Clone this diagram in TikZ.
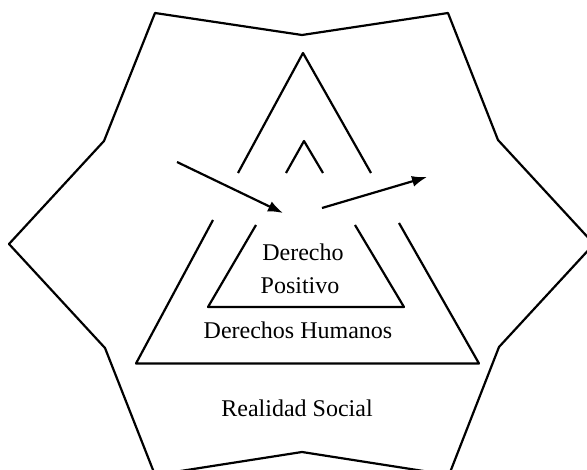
\documentclass[tikz,border=0pt]{standalone}
\usepackage{fontspec}
\setmainfont{Liberation Serif}
\usepackage{tikz}
\usetikzlibrary{arrows.meta}

\begin{document}
\begin{tikzpicture}[x=1pt, y=-1pt, line width=2.2pt, line join=round,
    rotulo/.style={font=\fontsize{24}{28}\selectfont, anchor=base, inner sep=0pt},
    flecha/.style={-{Latex[length=15pt, width=11pt]}}]
  \useasboundingbox (0,0) rectangle (587,470);
  % realidad social
  \draw (155,13) -- (302,35) -- (448,13) -- (498,140) -- (594,244) -- (499,347)
     -- (449,475) -- (302,452) -- (155,475) -- (105,348) -- (9,244) -- (104,141) -- cycle;
  % derechos humanos
  \draw (238,173) -- (303,53) -- (371,173);
  \draw (213,220) -- (136,363.5) -- (479,363.5) -- (399,223);
  % derecho positivo
  \draw (286,173) -- (304,141) -- (323,173);
  \draw (256,225) -- (208,307) -- (404,307) -- (355,225);
  % flechas
  \coordinate (entrada) at (177,162);
  \coordinate (centro) at (283,213);
  \coordinate (salida) at (322,208);
  \coordinate (fuera) at (427,177);
  \draw[flecha] (entrada) -- (centro);
  \draw[flecha] (salida) -- (fuera);
  % textos
  \node[rotulo] (derecho) at (303,261) {Derecho};
  \node[rotulo] (positivo) at (300,294) {Positivo};
  \node[rotulo] (humanos) at (298,339) {Derechos Humanos};
  \node[rotulo] (social) at (297,417) {Realidad Social};
\end{tikzpicture}
\end{document}
